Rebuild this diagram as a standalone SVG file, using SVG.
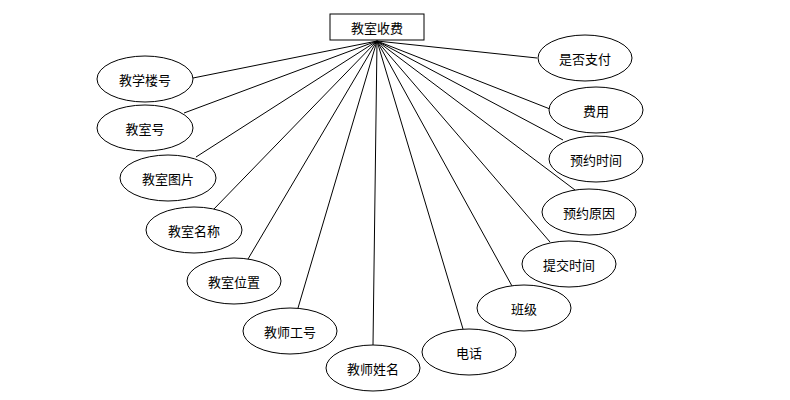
<svg xmlns="http://www.w3.org/2000/svg" width="790" height="400" viewBox="0 0 790 400">
<style>
.n{fill:#fff;stroke:#000;stroke-width:1}
.t{font-family:"Noto Sans CJK SC","Liberation Sans",sans-serif;font-size:13px;fill:#000;text-anchor:middle;dominant-baseline:central}
.c line{stroke:#000;stroke-width:1}
</style>
<rect width="790" height="400" fill="#fff"/>
<g class="c" id="connectors">
<line x1="377" y1="41" x2="193" y2="78"/>
<line x1="377" y1="41" x2="184" y2="113"/>
<line x1="377" y1="41" x2="196" y2="157"/>
<line x1="377" y1="41" x2="213" y2="210"/>
<line x1="377" y1="41" x2="248" y2="259"/>
<line x1="377" y1="41" x2="298" y2="308"/>
<line x1="377" y1="41" x2="373" y2="345"/>
<line x1="377" y1="41" x2="463" y2="329"/>
<line x1="377" y1="41" x2="512" y2="286"/>
<line x1="377" y1="41" x2="550" y2="242"/>
<line x1="377" y1="41" x2="575" y2="190"/>
<line x1="377" y1="41" x2="563" y2="140"/>
<line x1="377" y1="41" x2="550" y2="109"/>
<line x1="377" y1="41" x2="537" y2="58"/>
</g>
<g id="main"><rect class="n" x="330" y="14" width="94" height="26"/><text class="t" x="377" y="27">教室收费</text></g>
<g id="n1"><ellipse class="n" cx="145" cy="79" rx="48" ry="23"/><text class="t" x="145" y="79">教学楼号</text></g>
<g id="n2"><ellipse class="n" cx="145" cy="128" rx="48" ry="23"/><text class="t" x="145" y="128">教室号</text></g>
<g id="n3"><ellipse class="n" cx="168" cy="178" rx="48" ry="23"/><text class="t" x="168" y="178">教室图片</text></g>
<g id="n4"><ellipse class="n" cx="194" cy="230" rx="48" ry="23"/><text class="t" x="194" y="230">教室名称</text></g>
<g id="n5"><ellipse class="n" cx="234" cy="281" rx="47" ry="23"/><text class="t" x="234" y="281">教室位置</text></g>
<g id="n6"><ellipse class="n" cx="290" cy="331" rx="47" ry="23"/><text class="t" x="290" y="331">教师工号</text></g>
<g id="n7"><ellipse class="n" cx="373" cy="368" rx="47" ry="23"/><text class="t" x="373" y="368">教师姓名</text></g>
<g id="n8"><ellipse class="n" cx="469" cy="352" rx="47" ry="23"/><text class="t" x="469" y="352">电话</text></g>
<g id="n9"><ellipse class="n" cx="524" cy="308" rx="47" ry="23"/><text class="t" x="524" y="308">班级</text></g>
<g id="n10"><ellipse class="n" cx="569" cy="264" rx="47" ry="23"/><text class="t" x="569" y="264">提交时间</text></g>
<g id="n11"><ellipse class="n" cx="589" cy="212" rx="47" ry="23"/><text class="t" x="589" y="212">预约原因</text></g>
<g id="n12"><ellipse class="n" cx="596" cy="159" rx="47" ry="23"/><text class="t" x="596" y="159">预约时间</text></g>
<g id="n13"><ellipse class="n" cx="596" cy="110" rx="47" ry="23"/><text class="t" x="596" y="110">费用</text></g>
<g id="n14"><ellipse class="n" cx="585" cy="58" rx="47" ry="23"/><text class="t" x="585" y="58">是否支付</text></g>
</svg>
